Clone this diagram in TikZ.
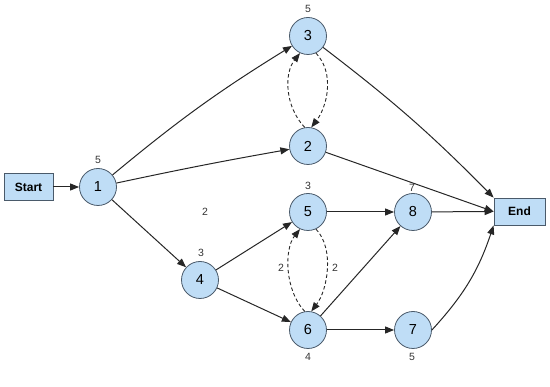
\documentclass[tikz,border=0pt]{standalone}
\usepackage{fontspec}
\setmainfont{Liberation Sans}
\usetikzlibrary{arrows.meta}
\definecolor{nodefill}{HTML}{BFDDF6}
\definecolor{nodeline}{HTML}{4A5A6A}
\definecolor{lbl}{HTML}{333333}
\begin{document}
\begin{tikzpicture}[x=1pt,y=-1pt,
  ev/.style={circle,draw=nodeline,fill=nodefill,line width=0.8pt,minimum size=37pt,inner sep=0pt,font=\fontsize{14.5}{14.5}\selectfont},
  term/.style={rectangle,draw=nodeline,fill=nodefill,line width=0.8pt,minimum height=27pt,inner sep=0pt,font=\fontsize{12}{12}\selectfont\bfseries},
  wt/.style={font=\fontsize{10.5}{10.5}\selectfont,text=lbl,inner sep=0pt},
  arr/.style={-{Triangle[length=9pt,width=7pt]},line width=1pt,black!85},
  darr/.style={arr,line width=0.9pt,dash pattern=on 3.5pt off 2.5pt}]
\useasboundingbox (0,0) rectangle (550,387);
\node[term,minimum width=49pt] (start) at (28.5,187) {Start};
\node[term,minimum width=51pt] (end) at (519.5,211.5) {End};
\node[ev] (n1) at (98,187) {1};
\node[ev] (n3) at (308,36) {3};
\node[ev] (n2) at (308,146) {2};
\node[ev] (n5) at (308,212) {5};
\node[ev] (n6) at (308,330) {6};
\node[ev] (n4) at (200,280) {4};
\node[ev] (n8) at (413,212) {8};
\node[ev] (n7) at (413,330) {7};
% weights
\node[wt] (w1) at (98,160) {5};
\node[wt] (w3) at (308,9) {5};
\node[wt] (w5) at (308,186) {3};
\node[wt] (w8) at (412,188) {7};
\node[wt] (w4) at (201,253) {3};
\node[wt] (w6) at (308,357) {4};
\node[wt] (w7) at (412,357) {5};
\node[wt] (wm) at (205,212) {2};
\node[wt] (wl) at (281,268) {2};
\node[wt] (wr) at (335,268) {2};
% edges
\draw[arr] (start) -- (n1);
\draw[arr] (n1) to[bend left=4] (n3);
\draw[arr] (n1) to[bend left=1] (n2);
\draw[arr] (n1) -- (n4);
\draw[arr] (n4) -- (n5);
\draw[arr] (n4) -- (n6);
\draw[arr] (n5) -- (n8);
\draw[arr] (n6) -- (n8);
\draw[arr] (n6) -- (n7);
\draw[arr] (n3) to[bend left=4] (end.north west);
\draw[arr] (n2) -- (end.west);
\draw[arr] (n8) -- (end.west);
\draw[arr] (n7.east) to[bend right=12] (end.south west);
% dashed
\draw[darr] (n2.100) .. controls +(-20,-21) and +(-16,20) .. (n3.-115);
\draw[darr] (n3.-65) .. controls +(19,20) and +(16,-21) .. (n2.80);
\draw[darr] (n6.100) .. controls +(-20,-21) and +(-16,20) .. (n5.-115);
\draw[darr] (n5.-65) .. controls +(19,20) and +(16,-21) .. (n6.80);
\end{tikzpicture}
\end{document}
